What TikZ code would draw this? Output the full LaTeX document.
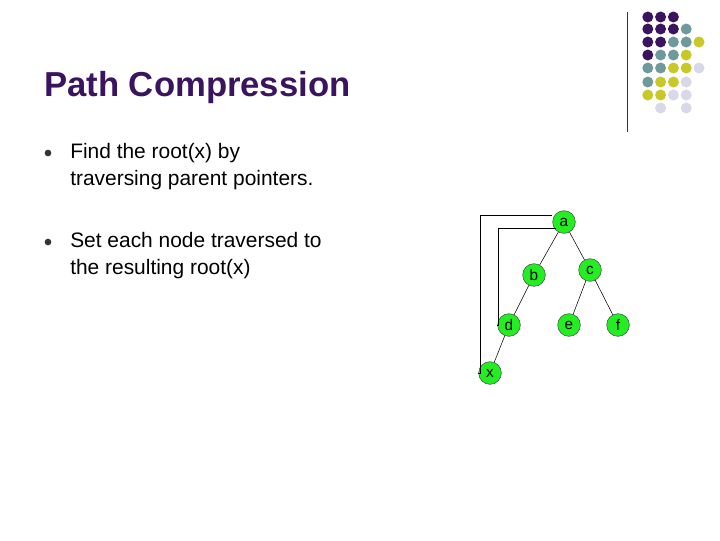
\documentclass[tikz,border=0pt]{standalone}
\usepackage{fontspec}
\setmainfont{Liberation Sans}
\usepackage{xcolor}
\usetikzlibrary{positioning}
\definecolor{darkpurple}{HTML}{3B1460}
\definecolor{slateteal}{HTML}{6F9A9B}
\definecolor{olive}{HTML}{C8C828}
\definecolor{lavender}{HTML}{D8D8E8}
\definecolor{treegreen}{HTML}{22EE22}
\tikzset{
  treenode/.style={circle, draw=black!70, fill=treegreen, minimum size=17pt, inner sep=0pt, font=\fontsize{11.5}{12}\selectfont},
  bulletdot/.style={circle, fill=black!80, inner sep=0pt, minimum size=5pt},
  bullettext/.style={anchor=north west, align=left, font=\fontsize{15.7}{20}\selectfont, inner sep=0pt}
}
\begin{document}
\begin{tikzpicture}[x=0.75pt,y=-0.75pt]
\useasboundingbox (0,0) rectangle (720,540);

% Title
\node[anchor=west, inner sep=0pt, text=darkpurple, font=\bfseries\fontsize{26}{28}\selectfont] (title) at (44,88) {Path Compression};

% Bullets
\node[bulletdot] (b1) at (48,153) {};
\node[bullettext] (t1) at (70,143) {Find the root(x) by\\traversing parent pointers.};
\node[bulletdot] (b2) at (48,242) {};
\node[bullettext] (t2) at (70,232) {Set each node traversed to\\the resulting root(x)};

% Tree
\node[treenode] (a) at (564,222) {a};
\node[treenode] (b) at (534,275) {b};
\node[treenode] (c) at (590,270) {c};
\node[treenode] (d) at (509,325) {d};
\node[treenode] (e) at (569,325) {e};
\node[treenode] (f) at (618,325) {f};
\node[treenode] (x) at (490,373) {x};

\draw (a) -- (b) (a) -- (c) (b) -- (d) (d) -- (x) (c) -- (e) (c) -- (f);
\coordinate (outerl) at (480,215);
\coordinate (innerl) at (498,228);
\draw (a.west |- outerl) -- (outerl) -- (outerl |- x.west) -- (x.west);
\draw (a.south west |- innerl) -- (innerl) -- (innerl |- d.west) -- (d.west);

% Decoration
\draw[black!80] (627,12) -- (627,132);
\foreach \row/\ypos/\cols in {%
  1/17/{1/darkpurple,2/darkpurple,3/darkpurple},
  2/29/{1/darkpurple,2/darkpurple,3/darkpurple,4/slateteal},
  3/42/{1/darkpurple,2/darkpurple,3/slateteal,4/slateteal,5/olive},
  4/55/{1/darkpurple,2/slateteal,3/slateteal,4/olive},
  5/68/{1/slateteal,2/slateteal,3/olive,4/olive,5/lavender},
  6/82/{1/slateteal,2/olive,3/olive,4/lavender},
  7/95/{1/olive,2/olive,3/lavender,4/lavender},
  8/108/{2/lavender,4/lavender}}{
  \foreach \c/\col in \cols {
    \fill[\col] ({635+12.8*\c},\ypos) circle (5.5);
  }
}
\end{tikzpicture}
\end{document}
